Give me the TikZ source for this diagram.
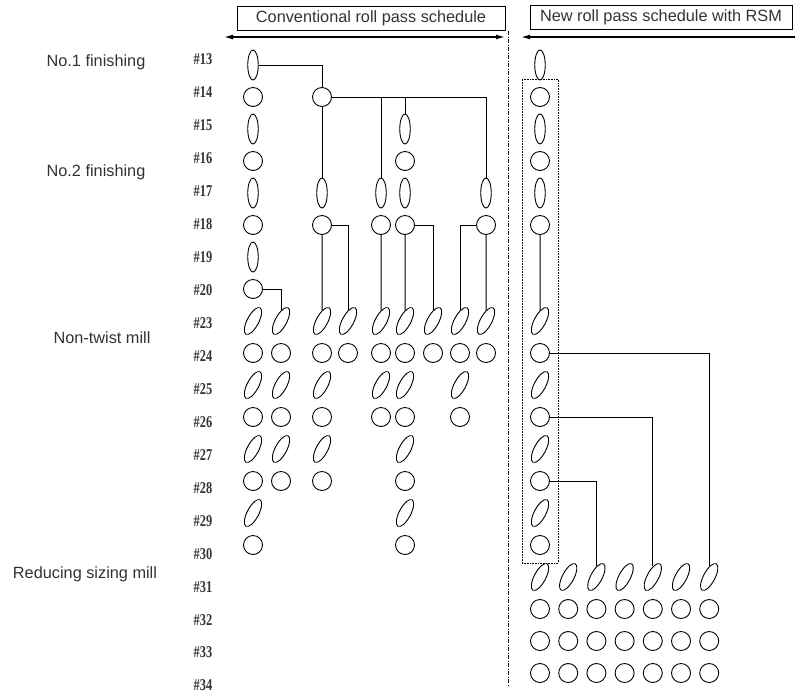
\documentclass[tikz,border=0pt]{standalone}
\usepackage{fontspec}
\setmainfont{Liberation Sans}
\newfontfamily\standfont[FakeStretch=0.75]{Liberation Serif}
\usetikzlibrary{shapes.geometric,arrows.meta,fit}
\definecolor{inktext}{HTML}{333333}
\tikzset{
  pass/.style={draw, line width=0.9pt, inner sep=0pt},
  roundpass/.style={pass, circle, minimum size=19pt},
  flatpass/.style={pass, ellipse, minimum width=10.5pt, minimum height=30pt},
  tiltpass/.style={pass, ellipse, minimum width=30pt, minimum height=11.5pt, rotate=62},
  link/.style={line width=1pt},
  millname/.style={font=\fontsize{16.3}{18}\selectfont, text=inktext},
  standno/.style={font=\standfont\bfseries\fontsize{16.5}{18}\selectfont, text=inktext, inner sep=0pt},
  headbox/.style={draw, line width=0.8pt, minimum height=24pt, inner sep=0pt,
                  font=\fontsize{16.3}{18}\selectfont, text=inktext},
  rangearrow/.style={line width=1.4pt},
  divider/.style={line width=1pt, dash pattern=on 4pt off 1.5pt on 1pt off 1.5pt},
  rsmbox/.style={draw, densely dotted, line width=0.6pt, inner sep=8pt},
}
% one column of passes: name prefix, x, first and last row index
\newcommand\rollcol[4]{%
  \foreach \k in {#3,...,#4}{%
    \pgfmathtruncatemacro\standnum{\k+13+(\k>7)*2}%
    \pgfmathtruncatemacro\passodd{mod(\k,2)}%
    \ifnum\passodd=1 \def\passkind{roundpass}\else
      \ifnum\k<8 \def\passkind{flatpass}\else\def\passkind{tiltpass}\fi\fi
    \node[\passkind] (#1\standnum) at (#2,{65+32*\k}) {};
  }}

\begin{document}
\begin{tikzpicture}[x=1pt, y=-1pt]
    \useasboundingbox (0,0) rectangle (795,697);
    % headers
    \node[headbox, minimum width=268pt] (conv) at (371,18.5) {Conventional roll pass schedule};
    \node[headbox, minimum width=262pt] (newrsm) at (661,17.5) {New roll pass schedule with RSM};
    \coordinate (convL) at (224,37);
    \coordinate (convR) at (505,37);
    \coordinate (newL) at (521,37);
    \coordinate (newR) at (795,37);
    \draw[rangearrow, {Latex[length=9pt,width=5pt]}-{Latex[length=9pt,width=5pt]}] (convL) -- (convR);
    \draw[rangearrow, {Latex[length=9pt,width=5pt]}-] (newL) -- (newR);
    \coordinate (divtop) at (508,31);
    \coordinate (divbot) at (508,686);
    \draw[divider] (divtop) -- (divbot);

    % mill names and stand numbers
    \node[millname] (no1) at (96,62) {No.1 finishing};
    \node[millname] (no2) at (96,172) {No.2 finishing};
    \node[millname] (ntm) at (102,338) {Non-twist mill};
    \node[millname] (rsm) at (85,574) {Reducing sizing mill};
    \foreach \s [count=\k from 0] in {13,14,15,16,17,18,19,20,23,24,25,26,27,28,29,30,31,32,33,34}
      \node[standno] (st\s) at (203,{59.5+32.95*\k}) {\#\s};

    % conventional schedule
    \rollcol{a}{253}{0}{15}
    \rollcol{b}{281}{8}{13}
    \rollcol{c}{322}{1}{1}
    \rollcol{c}{322}{4}{5}
    \rollcol{c}{322}{8}{13}
    \rollcol{d}{348}{8}{9}
    \rollcol{e}{381}{4}{5}
    \rollcol{e}{381}{8}{11}
    \rollcol{f}{405}{2}{5}
    \rollcol{f}{405}{8}{15}
    \rollcol{g}{433}{8}{9}
    \rollcol{h}{460}{8}{11}
    \rollcol{i}{486}{4}{5}
    \rollcol{i}{486}{8}{9}

    \draw[link] (a13.east) -| (c14);
    \draw[link] (c14) -- (c17);
    \draw[link] (c14.east) -| (i17);
    \draw[link] (c14.east -| e17) -- (e17);
    \draw[link] (c14.east -| f15) -- (f15);
    \draw[link] (c18) -- (c23);
    \draw[link] (c18.east) -| (d23);
    \draw[link] (e18) -- (e23);
    \draw[link] (f18) -- (f23);
    \draw[link] (f18.east) -| (g23);
    \draw[link] (i18) -- (i23);
    \draw[link] (i18.west) -| (h23);
    \draw[link] (a20.east) -| (b23);

    % new schedule with RSM
    \rollcol{r}{540}{0}{5}
    \rollcol{r}{540}{8}{15}
    \node[rsmbox, fit=(r14)(r30)] (rsmframe) {};
    \foreach \n in {1,...,7}{
      \node[tiltpass] (s\n) at ({540+28.2*(\n-1)},577) {};
      \foreach \m in {1,2,3}
        \node[roundpass] (s\n-\m) at ({540+28.2*(\n-1)},{577+32*\m}) {};
    }
    \draw[link] (r18) -- (r23);
    \draw[link] (r24.east) -| (s7);
    \draw[link] (r26.east) -| (s5);
    \draw[link] (r28.east) -| (s3);
  \end{tikzpicture}
\end{document}
